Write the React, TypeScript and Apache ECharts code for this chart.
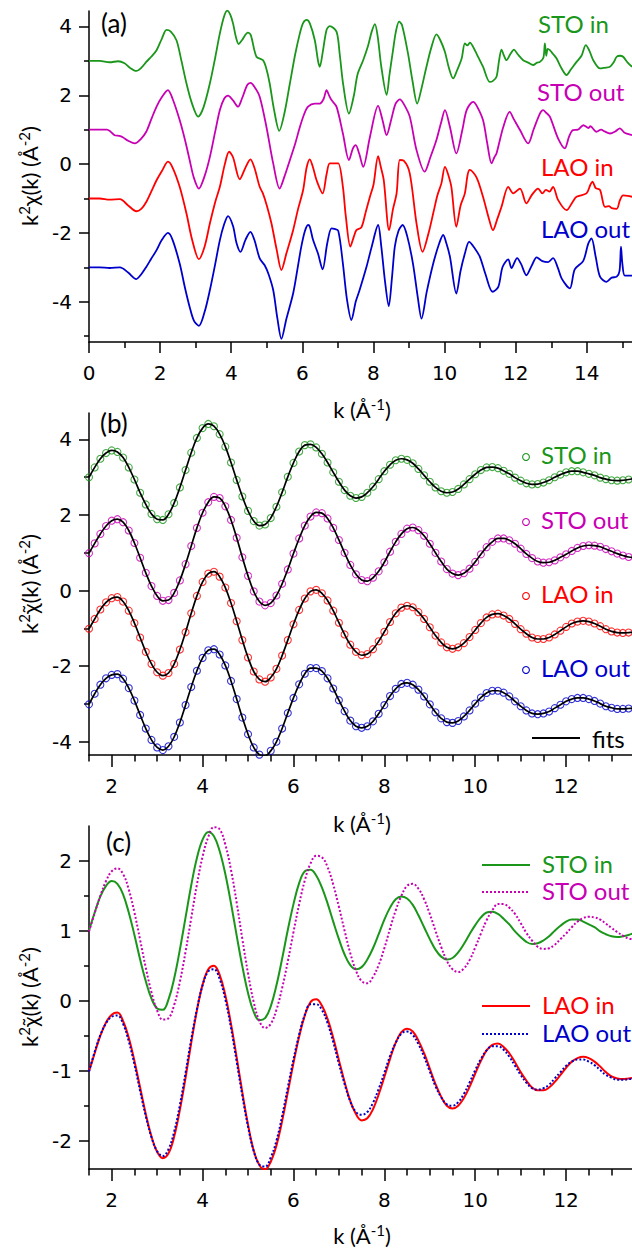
import React, { useEffect, useRef } from "react";
import * as echarts from "echarts";

// ---------- panel (a): raw k^2 chi(k) data, [k, value] pairs ----------
const A_STO_IN: [number, number][] = [
  [0, 3.0], [0.3, 3.0], [0.58, 2.96], [0.82, 2.99], [1.0, 2.93], [1.15, 2.8], [1.33, 2.71], [1.47, 2.8], [1.61, 2.97], [1.75, 3.12],
  [1.9, 3.31], [2.05, 3.65], [2.18, 3.9], [2.3, 3.85], [2.46, 3.6], [2.6, 3.0], [2.74, 2.35], [2.9, 1.75], [3.07, 1.38], [3.22, 1.65],
  [3.4, 2.35], [3.55, 3.1], [3.68, 3.8], [3.8, 4.3], [3.89, 4.46], [3.97, 4.35], [4.05, 4.09], [4.13, 3.7], [4.21, 3.49], [4.3, 3.6],
  [4.47, 3.82], [4.55, 3.75], [4.71, 3.12], [4.89, 3.02], [4.98, 2.8], [5.08, 2.35], [5.2, 1.6], [5.35, 0.97], [5.5, 1.5], [5.65, 2.35],
  [5.8, 3.2], [5.93, 3.8], [6.02, 4.1], [6.12, 4.19], [6.21, 4.09], [6.35, 3.6], [6.44, 3.0], [6.49, 2.83], [6.58, 3.3], [6.68, 3.9],
  [6.77, 4.01], [6.96, 3.85], [7.05, 3.2], [7.15, 2.3], [7.31, 1.47], [7.45, 2.0], [7.55, 2.6], [7.71, 3.02], [7.85, 3.45], [7.95, 3.85],
  [8.04, 4.07], [8.12, 3.7], [8.22, 2.83], [8.37, 2.01], [8.45, 2.6], [8.55, 3.31], [8.63, 3.85], [8.72, 4.14], [8.8, 4.05], [8.97, 3.22],
  [9.1, 2.4], [9.23, 1.76], [9.35, 2.2], [9.49, 2.83], [9.63, 3.4], [9.77, 3.77], [9.88, 3.6], [10.01, 3.26], [10.12, 2.8], [10.24, 2.49],
  [10.36, 2.75], [10.48, 3.07], [10.57, 3.51], [10.64, 3.45], [10.71, 3.53], [10.85, 3.31], [10.95, 3.1], [11.08, 2.83], [11.27, 2.39], [11.36, 2.42],
  [11.46, 2.54], [11.53, 3.0], [11.6, 3.33], [11.67, 3.15], [11.74, 3.02], [11.85, 3.2], [11.95, 3.33], [12.05, 3.2], [12.21, 3.02], [12.35, 2.95],
  [12.49, 2.88], [12.6, 2.95], [12.68, 2.97], [12.78, 3.1], [12.82, 3.51], [12.86, 3.15], [12.9, 3.35], [12.96, 3.31], [13.05, 3.2], [13.15, 3.07],
  [13.28, 2.8], [13.43, 2.59], [13.55, 2.75], [13.71, 2.97], [13.85, 3.15], [13.97, 3.46], [14.07, 3.3], [14.18, 3.02], [14.37, 2.78], [14.5, 2.8],
  [14.65, 2.83], [14.75, 2.95], [14.84, 3.12], [14.93, 3.15], [15.02, 3.12], [15.15, 2.95], [15.27, 2.83],
];
const A_STO_OUT: [number, number][] = [
  [0, 1.0], [0.5, 1.0], [0.6, 0.95], [0.72, 0.84], [0.85, 0.82], [0.95, 0.78], [1.1, 0.68], [1.29, 0.6], [1.45, 0.72], [1.61, 0.94],
  [1.75, 1.3], [1.9, 1.67], [2.05, 1.95], [2.22, 2.15], [2.35, 1.9], [2.55, 1.28], [2.7, 0.7], [2.83, 0.12], [2.95, -0.4], [3.09, -0.71],
  [3.25, -0.35], [3.4, 0.21], [3.55, 0.95], [3.68, 1.57], [3.8, 1.9], [3.91, 1.99], [4.05, 1.85], [4.19, 1.67], [4.3, 1.9], [4.45, 2.3],
  [4.54, 2.36], [4.65, 2.25], [4.8, 1.96], [4.99, 1.08], [5.18, 0.02], [5.36, -0.71], [5.5, -0.35], [5.65, 0.12], [5.8, 0.6], [5.93, 1.08],
  [6.05, 1.45], [6.16, 1.67], [6.35, 1.76], [6.49, 1.76], [6.6, 1.9], [6.68, 2.15], [6.75, 2.0], [6.82, 1.86], [6.96, 1.67], [7.14, 0.89],
  [7.31, 0.12], [7.42, 0.45], [7.5, 0.55], [7.6, 0.3], [7.71, -0.08], [7.9, 0.79], [8.13, 1.69], [8.25, 1.3], [8.37, 0.84], [8.5, 1.3],
  [8.62, 1.75], [8.74, 1.88], [8.85, 1.75], [9.02, 1.38], [9.21, 0.41], [9.44, -0.22], [9.6, 0.2], [9.77, 0.7], [9.9, 1.2], [10.01, 1.57],
  [10.15, 1.08], [10.33, 0.31], [10.5, 1.0], [10.62, 1.57], [10.8, 1.81], [10.9, 1.7], [11.08, 1.28], [11.2, 0.6], [11.32, 0.02], [11.4, 0.2],
  [11.46, 0.31], [11.65, 1.08], [11.83, 1.52], [11.95, 1.3], [12.12, 0.99], [12.35, 0.6], [12.5, 1.0], [12.68, 1.47], [12.77, 1.57], [12.85, 1.5],
  [12.96, 1.38], [13.19, 0.75], [13.38, 0.46], [13.5, 0.8], [13.61, 0.99], [13.75, 1.0], [13.9, 1.13], [14.05, 1.05], [14.1, 1.1], [14.27, 0.94],
  [14.4, 1.0], [14.5, 0.95], [14.65, 0.89], [14.8, 0.95], [14.93, 1.04], [15.05, 0.92], [15.15, 0.88], [15.27, 0.84],
];
const A_LAO_IN: [number, number][] = [
  [0, -1.0], [0.3, -1.0], [0.58, -1.03], [0.87, -1.02], [1.1, -1.2], [1.33, -1.37], [1.47, -1.3], [1.61, -1.1], [1.75, -0.8], [1.9, -0.47],
  [2.05, -0.2], [2.22, 0.07], [2.35, -0.1], [2.55, -0.66], [2.74, -1.43], [2.9, -2.2], [3.09, -2.76], [3.25, -2.4], [3.4, -1.72], [3.55, -1.1],
  [3.68, -0.66], [3.82, 0.0], [3.94, 0.36], [4.05, 0.2], [4.24, -0.44], [4.4, -0.1], [4.54, 0.14], [4.65, -0.1], [4.8, -0.66], [4.89, -0.85],
  [5.0, -1.2], [5.13, -1.72], [5.28, -2.5], [5.41, -3.08], [5.55, -2.6], [5.74, -1.92], [5.88, -1.3], [6.02, -0.76], [6.12, -0.1], [6.21, 0.14],
  [6.3, -0.1], [6.4, -0.47], [6.57, -0.85], [6.68, -0.3], [6.77, 0.02], [6.9, 0.02], [7.01, 0.02], [7.14, -0.66], [7.22, -1.5], [7.35, -2.4],
  [7.45, -2.1], [7.52, -1.92], [7.66, -1.84], [7.78, -1.4], [7.9, -0.95], [8.0, -0.6], [8.13, 0.23], [8.21, -0.1], [8.29, -0.47], [8.44, -1.92],
  [8.55, -1.3], [8.65, -0.85], [8.74, 0.12], [8.85, 0.1], [9.02, -0.27], [9.21, -1.72], [9.38, -2.55], [9.55, -2.0], [9.68, -1.43], [9.8, -0.9],
  [9.91, -0.56], [10.01, -0.08], [10.1, -0.3], [10.19, -0.66], [10.33, -1.82], [10.45, -1.2], [10.57, -0.85], [10.65, -0.3], [10.71, -0.17], [10.9, -0.39],
  [11.08, -0.95], [11.25, -1.6], [11.36, -1.92], [11.48, -1.6], [11.6, -1.24], [11.79, -0.66], [11.93, -0.85], [12.12, -0.71], [12.3, -1.14], [12.45, -0.9],
  [12.63, -0.71], [12.75, -0.85], [12.85, -0.75], [12.95, -0.8], [13.05, -0.66], [13.19, -1.04], [13.43, -1.34], [13.6, -1.1], [13.71, -0.95], [13.99, -0.85],
  [14.1, -0.6], [14.16, -0.51], [14.25, -0.7], [14.37, -0.75], [14.51, -1.24], [14.62, -1.22], [14.7, -1.28], [14.84, -1.3], [14.93, -1.05], [15.02, -0.91],
  [15.15, -0.92], [15.27, -0.95],
];
const A_LAO_OUT: [number, number][] = [
  [0, -3.0], [0.3, -3.0], [0.58, -3.02], [0.87, -3.0], [1.1, -3.15], [1.33, -3.34], [1.47, -3.2], [1.61, -2.99], [1.75, -2.75], [1.9, -2.5],
  [2.05, -2.2], [2.22, -2.0], [2.35, -2.2], [2.55, -2.89], [2.7, -3.6], [2.83, -4.15], [2.95, -4.55], [3.09, -4.7], [3.25, -4.3], [3.4, -3.66],
  [3.55, -2.9], [3.68, -2.21], [3.8, -1.75], [3.91, -1.51], [4.05, -1.8], [4.15, -2.3], [4.26, -2.55], [4.4, -2.2], [4.54, -1.97], [4.65, -2.2],
  [4.8, -2.74], [4.94, -2.94], [5.05, -3.2], [5.18, -3.66], [5.3, -4.5], [5.41, -5.08], [5.55, -4.5], [5.74, -3.76], [5.87, -3.0], [5.97, -2.4],
  [6.07, -1.95], [6.16, -1.77], [6.21, -1.82], [6.3, -2.2], [6.44, -2.6], [6.57, -3.06], [6.7, -2.3], [6.82, -1.87], [6.9, -1.88], [7.01, -1.94],
  [7.14, -2.89], [7.25, -3.9], [7.38, -4.53], [7.5, -4.0], [7.61, -3.66], [7.8, -3.0], [7.95, -2.4], [8.13, -1.77], [8.22, -2.4], [8.32, -3.37],
  [8.43, -4.13], [8.52, -3.3], [8.6, -2.4], [8.7, -1.95], [8.82, -1.77], [8.95, -2.1], [9.11, -2.89], [9.25, -3.9], [9.35, -4.49], [9.5, -3.7],
  [9.68, -2.89], [9.85, -2.3], [9.96, -2.06], [10.05, -2.3], [10.15, -2.69], [10.33, -3.76], [10.45, -3.1], [10.57, -2.6], [10.69, -2.26], [10.85, -2.45],
  [10.99, -2.69], [11.15, -3.2], [11.35, -3.71], [11.51, -3.57], [11.63, -2.99], [11.79, -2.77], [11.88, -3.02], [12.04, -2.73], [12.15, -2.9], [12.3, -3.23],
  [12.45, -2.95], [12.59, -2.71], [12.75, -2.82], [12.91, -2.85], [13.05, -2.73], [13.18, -3.0], [13.29, -3.32], [13.52, -3.61], [13.66, -3.06], [13.9, -2.81],
  [14.04, -2.31], [14.13, -2.16], [14.25, -2.7], [14.37, -3.27], [14.55, -3.42], [14.7, -3.3], [14.84, -3.27], [14.92, -3.1], [14.96, -2.4], [15.0, -2.9],
  [15.07, -3.24], [15.27, -3.24],
];

// ---------- panels (b) and (c): filtered k^2 chi~(k) on a common k grid ----------
const K_FIT = [
  1.5, 1.625, 1.75, 1.875, 2, 2.125, 2.25, 2.375,
  2.5, 2.625, 2.75, 2.875, 3, 3.125, 3.25, 3.375,
  3.5, 3.625, 3.75, 3.875, 4, 4.125, 4.25, 4.375,
  4.5, 4.625, 4.75, 4.875, 5, 5.125, 5.25, 5.375,
  5.5, 5.625, 5.75, 5.875, 6, 6.125, 6.25, 6.375,
  6.5, 6.625, 6.75, 6.875, 7, 7.125, 7.25, 7.375,
  7.5, 7.625, 7.75, 7.875, 8, 8.125, 8.25, 8.375,
  8.5, 8.625, 8.75, 8.875, 9, 9.125, 9.25, 9.375,
  9.5, 9.625, 9.75, 9.875, 10, 10.125, 10.25, 10.375,
  10.5, 10.625, 10.75, 10.875, 11, 11.125, 11.25, 11.375,
  11.5, 11.625, 11.75, 11.875, 12, 12.125, 12.25, 12.375,
  12.5, 12.625, 12.75, 12.875, 13, 13.125, 13.25, 13.375,
  13.5,
];
const C_STO_IN = [
  1.0, 1.26, 1.49, 1.64, 1.71, 1.67, 1.52, 1.26,
  0.94, 0.59, 0.28, 0.03, -0.11, -0.13, 0.02, 0.32,
  0.73, 1.19, 1.65, 2.04, 2.3, 2.41, 2.35, 2.14,
  1.81, 1.39, 0.93, 0.49, 0.11, -0.16, -0.28, -0.25,
  -0.08, 0.22, 0.6, 1.01, 1.38, 1.68, 1.85, 1.87,
  1.79, 1.62, 1.39, 1.13, 0.88, 0.66, 0.51, 0.45,
  0.48, 0.59, 0.75, 0.95, 1.16, 1.33, 1.45, 1.49,
  1.46, 1.37, 1.22, 1.05, 0.88, 0.73, 0.63, 0.59,
  0.61, 0.69, 0.81, 0.95, 1.08, 1.19, 1.26, 1.27,
  1.24, 1.17, 1.09, 0.99, 0.91, 0.84, 0.81, 0.82,
  0.86, 0.92, 1.0, 1.07, 1.13, 1.16, 1.16, 1.13,
  1.09, 1.05, 0.99, 0.95, 0.92, 0.91, 0.92, 0.94,
  0.97,
];
const C_STO_OUT = [
  0.99, 1.25, 1.5, 1.71, 1.85, 1.89, 1.81, 1.59,
  1.26, 0.87, 0.47, 0.12, -0.14, -0.27, -0.25, -0.06,
  0.27, 0.7, 1.18, 1.66, 2.06, 2.34, 2.48, 2.45,
  2.23, 1.87, 1.4, 0.88, 0.39, -0.02, -0.29, -0.39,
  -0.33, -0.13, 0.18, 0.56, 0.98, 1.38, 1.72, 1.96,
  2.07, 2.05, 1.91, 1.66, 1.34, 1.0, 0.68, 0.43,
  0.28, 0.25, 0.34, 0.51, 0.75, 1.03, 1.29, 1.5,
  1.64, 1.67, 1.6, 1.45, 1.24, 1.0, 0.77, 0.57,
  0.45, 0.41, 0.46, 0.58, 0.76, 0.96, 1.15, 1.29,
  1.38, 1.38, 1.33, 1.24, 1.11, 0.97, 0.86, 0.77,
  0.74, 0.75, 0.8, 0.88, 0.96, 1.05, 1.13, 1.18,
  1.2, 1.19, 1.16, 1.1, 1.04, 0.98, 0.93, 0.89,
  0.88,
];
const C_LAO_IN = [
  -1.01, -0.75, -0.5, -0.31, -0.2, -0.17, -0.29, -0.53,
  -0.86, -1.24, -1.62, -1.94, -2.16, -2.25, -2.18, -1.94,
  -1.56, -1.1, -0.6, -0.14, 0.23, 0.45, 0.5, 0.37,
  0.08, -0.33, -0.81, -1.31, -1.77, -2.14, -2.35, -2.41,
  -2.3, -2.07, -1.72, -1.31, -0.89, -0.51, -0.21, -0.02,
  0.02, -0.07, -0.26, -0.53, -0.85, -1.16, -1.43, -1.62,
  -1.71, -1.68, -1.55, -1.34, -1.09, -0.83, -0.6, -0.45,
  -0.4, -0.44, -0.57, -0.75, -0.97, -1.19, -1.37, -1.5,
  -1.54, -1.5, -1.39, -1.23, -1.04, -0.86, -0.71, -0.63,
  -0.61, -0.66, -0.75, -0.88, -1.02, -1.14, -1.24, -1.28,
  -1.28, -1.24, -1.16, -1.06, -0.96, -0.87, -0.82, -0.8,
  -0.82, -0.87, -0.94, -1.02, -1.08, -1.11, -1.12, -1.11,
  -1.1,
];
const C_LAO_OUT = [
  -1.01, -0.73, -0.49, -0.32, -0.23, -0.21, -0.33, -0.58,
  -0.91, -1.29, -1.65, -1.95, -2.15, -2.22, -2.12, -1.87,
  -1.49, -1.03, -0.55, -0.12, 0.22, 0.42, 0.45, 0.31,
  0.02, -0.39, -0.87, -1.36, -1.8, -2.15, -2.34, -2.37,
  -2.24, -2.0, -1.65, -1.24, -0.84, -0.48, -0.2, -0.05,
  -0.05, -0.13, -0.32, -0.59, -0.9, -1.19, -1.44, -1.59,
  -1.63, -1.59, -1.46, -1.26, -1.03, -0.79, -0.6, -0.47,
  -0.44, -0.49, -0.62, -0.8, -1.01, -1.22, -1.38, -1.48,
  -1.5, -1.45, -1.33, -1.17, -0.99, -0.83, -0.71, -0.65,
  -0.65, -0.7, -0.8, -0.93, -1.06, -1.17, -1.25, -1.27,
  -1.25, -1.2, -1.11, -1.02, -0.93, -0.87, -0.84, -0.84,
  -0.87, -0.92, -0.99, -1.06, -1.1, -1.13, -1.13, -1.12,
  -1.11,
];
// vertical offsets applied in panel (b) (stacked display)
const B_OFFSETS = [2, 0, 0, -2];

// tick values
const A_X_MAJOR = [0, 2, 4, 6, 8, 10, 12, 14];
const A_X_MINOR = [1, 3, 5, 7, 9, 11, 13, 15];
const AB_Y_MAJOR = [-4, -2, 0, 2, 4];
const A_Y_MINOR = [-5, -3, -1, 1, 3];
const B_Y_MINOR = [-3, -1, 1, 3];
const BC_X_MAJOR = [2, 4, 6, 8, 10, 12];
const BC_X_MINOR = [1.5, 2.5, 3, 3.5, 4.5, 5, 5.5, 6.5, 7, 7.5, 8.5, 9, 9.5, 10.5, 11, 11.5, 12.5, 13];
const C_Y_MAJOR = [-2, -1, 0, 1, 2];
const C_Y_MINOR = [-1.5, -0.5, 0.5, 1.5];

const NAMES = ["STO in", "STO out", "LAO in", "LAO out"];
const COLORS = ["#1a961a", "#c800b4", "#ff0000", "#0000cc"];

const FONT = "Lato";
const TICK_FONT = "DejaVu Sans";

function mainX(gridIndex: number, min: number, max: number, ticks: number[], len: number) {
  return {
    type: "value", gridIndex, min, max, position: "bottom",
    axisLine: { show: true, onZero: false, lineStyle: { color: "#000", width: 1.5 } },
    axisTick: { show: true, customValues: ticks, length: len, lineStyle: { color: "#000", width: 1.5 } },
    axisLabel: { show: true, customValues: ticks, margin: 21, fontSize: 20, fontFamily: TICK_FONT, color: "#000" },
    splitLine: { show: false },
  };
}
function minorX(gridIndex: number, min: number, max: number, ticks: number[], len: number) {
  return {
    type: "value", gridIndex, min, max, position: "bottom",
    axisLine: { show: false, onZero: false },
    axisTick: { show: true, customValues: ticks, length: len, lineStyle: { color: "#000", width: 1.5 } },
    axisLabel: { show: false },
    splitLine: { show: false },
  };
}
function mainY(gridIndex: number, min: number, max: number, ticks: number[]) {
  return {
    type: "value", gridIndex, min, max, position: "left",
    axisLine: { show: true, onZero: false, lineStyle: { color: "#000", width: 1.5 } },
    axisTick: { show: true, customValues: ticks, length: 10, lineStyle: { color: "#000", width: 1.5 } },
    axisLabel: { show: true, customValues: ticks, margin: 17, fontSize: 20, fontFamily: TICK_FONT, color: "#000" },
    splitLine: { show: false },
  };
}
function minorY(gridIndex: number, min: number, max: number, ticks: number[]) {
  return {
    type: "value", gridIndex, min, max, position: "left",
    axisLine: { show: false, onZero: false },
    axisTick: { show: true, customValues: ticks, length: 5, lineStyle: { color: "#000", width: 1.5 } },
    axisLabel: { show: false },
    splitLine: { show: false },
  };
}

const SUP_RICH = {
  n: { fontSize: 22, fontFamily: FONT, fill: "#000", color: "#000", lineHeight: 24, verticalAlign: "bottom" },
  s: { fontSize: 15, fontFamily: FONT, fill: "#000", color: "#000", lineHeight: 14, verticalAlign: "top" },
};

function txt(x: number, y: number, text: string, color: string, size: number, align = "left") {
  return {
    type: "text", x, y, silent: true,
    style: {
      text, fill: color, fontSize: size, fontFamily: FONT, lineHeight: size,
      align, textAlign: align, verticalAlign: "middle", textVerticalAlign: "middle",
    },
  };
}
function richTxt(x: number, y: number, text: string, rotation = 0) {
  return {
    type: "text", x, y, rotation, silent: true,
    style: { text, rich: SUP_RICH, fill: "#000", align: "center", textAlign: "center", verticalAlign: "middle", textVerticalAlign: "middle" },
  };
}

export default function App() {
  const ref = useRef<HTMLDivElement>(null);
  useEffect(() => {
    document.body.style.margin = "0";
    const chart = echarts.init(ref.current as HTMLDivElement, null, { renderer: "svg" });
    const C_CURVES = [C_STO_IN, C_STO_OUT, C_LAO_IN, C_LAO_OUT];
    const A_CURVES = [A_STO_IN, A_STO_OUT, A_LAO_IN, A_LAO_OUT];

    const series: any[] = [];
    A_CURVES.forEach((d, i) => {
      series.push({
        type: "line", name: "a-" + NAMES[i], xAxisIndex: 0, yAxisIndex: 0, data: d,
        showSymbol: false, smooth: 0.3, silent: true, clip: true,
        lineStyle: { color: COLORS[i], width: 1.8 },
      });
    });
    C_CURVES.forEach((v, i) => {
      series.push({
        type: "scatter", name: "b-" + NAMES[i], xAxisIndex: 2, yAxisIndex: 2,
        data: K_FIT.map((k, j) => [k, v[j] + B_OFFSETS[i]]),
        symbol: "circle", symbolSize: 7, silent: true, clip: true,
        itemStyle: { color: "rgba(0,0,0,0)", borderColor: COLORS[i], borderWidth: 1.1 },
      });
    });
    C_CURVES.forEach((v, i) => {
      series.push({
        type: "line", name: "b-fit-" + NAMES[i], xAxisIndex: 2, yAxisIndex: 2,
        data: K_FIT.map((k, j) => [k, v[j] + B_OFFSETS[i]]),
        showSymbol: false, smooth: 0.4, silent: true, clip: true,
        lineStyle: { color: "#000", width: 1.7 },
      });
    });
    [0, 2, 1, 3].forEach((i) => {
      const dotted = i === 1 || i === 3;
      series.push({
        type: "line", name: "c-" + NAMES[i], xAxisIndex: 4, yAxisIndex: 4,
        data: K_FIT.map((k, j) => [k, C_CURVES[i][j]]),
        showSymbol: false, smooth: 0.4, silent: true, clip: true,
        lineStyle: { color: COLORS[i], width: 2, type: dotted ? [2, 2] : "solid" },
      });
    });

    const graphics: any[] = [
      txt(101, 23, "(a)", "#000", 26),
      txt(100, 423, "(b)", "#000", 26),
      txt(106, 842, "(c)", "#000", 26),
      // panel (a) labels
      txt(538, 23, NAMES[0], COLORS[0], 24),
      txt(537, 91, NAMES[1], COLORS[1], 24),
      txt(541, 166, NAMES[2], COLORS[2], 24),
      txt(541, 228, NAMES[3], COLORS[3], 24),
      // panel (b) legend
      ...[454, 519, 593, 667].flatMap((y, i) => [
        { type: "circle", silent: true, shape: { cx: 526, cy: y + 3, r: 3.4 }, style: { fill: "none", stroke: COLORS[i], lineWidth: 1.1 } },
        txt(541, y, NAMES[i], COLORS[i], 24),
      ]),
      { type: "line", silent: true, shape: { x1: 532, y1: 738, x2: 580, y2: 738 }, style: { stroke: "#000", lineWidth: 2 } },
      txt(592, 738, "fits", "#000", 24),
      // panel (c) legend
      ...[865, 892, 1006, 1034].flatMap((y, i) => [
        { type: "line", silent: true, shape: { x1: 482, y1: y, x2: 530, y2: y }, style: { stroke: COLORS[i], lineWidth: 2, lineDash: i % 2 === 1 ? [2, 2] : null } },
        txt(542, y - 2, NAMES[i], COLORS[i], 24),
      ]),
      // axis titles
      richTxt(362, 408, "{n|k (Å}{s|-1}{n|)}"),
      richTxt(362, 822, "{n|k (Å}{s|-1}{n|)}"),
      richTxt(362, 1234, "{n|k (Å}{s|-1}{n|)}"),
      richTxt(28, 176, "{n|k}{s|2}{n|χ(k) (Å}{s|-2}{n|)}", Math.PI / 2),
      richTxt(28, 584, "{n|k}{s|2}{n|χ̃(k) (Å}{s|-2}{n|)}", Math.PI / 2),
      richTxt(28, 997, "{n|k}{s|2}{n|χ̃(k) (Å}{s|-2}{n|)}", Math.PI / 2),
    ];

    chart.setOption({
      animation: false,
      backgroundColor: "#fff",
      textStyle: { fontFamily: FONT },
      grid: [
        { left: 89, top: 11, width: 543, height: 331 },
        { left: 89, top: 413, width: 543, height: 342 },
        { left: 89, top: 826, width: 543, height: 343 },
      ],
      xAxis: [
        mainX(0, 0, 15.27, A_X_MAJOR, 11),
        minorX(0, 0, 15.27, A_X_MINOR, 6),
        mainX(1, 1.5, 13.45, BC_X_MAJOR, 12),
        minorX(1, 1.5, 13.45, BC_X_MINOR, 6.5),
        mainX(2, 1.5, 13.45, BC_X_MAJOR, 12),
        minorX(2, 1.5, 13.45, BC_X_MINOR, 6.5),
      ],
      yAxis: [
        mainY(0, -5.17, 4.45, AB_Y_MAJOR),
        minorY(0, -5.17, 4.45, A_Y_MINOR),
        mainY(1, -4.35, 4.7, AB_Y_MAJOR),
        minorY(1, -4.35, 4.7, B_Y_MINOR),
        mainY(2, -2.404, 2.496, C_Y_MAJOR),
        minorY(2, -2.404, 2.496, C_Y_MINOR),
      ],
      series,
      graphic: { elements: graphics },
    });
    return () => chart.dispose();
  }, []);
  return <div ref={ref} style={{ width: 632, height: 1249 }} />;
}
